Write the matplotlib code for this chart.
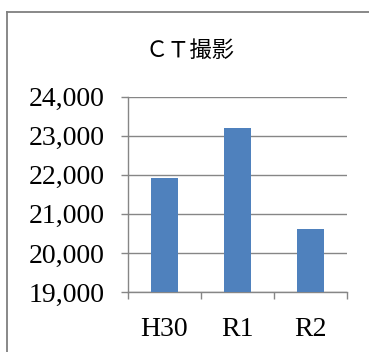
import matplotlib
matplotlib.use("Agg")
import matplotlib.pyplot as plt
from matplotlib.lines import Line2D
from matplotlib.ticker import FuncFormatter, MultipleLocator

categories = ["H30", "R1", "R2"]
values = [21920, 23190, 20610]
title = "ＣＴ撮影"

serif = ["Liberation Serif", "DejaVu Serif", "Noto Sans CJK JP"]
bar_color = "#4F81BD"
grid_color = "#868686"

W, H = 369, 352
fig = plt.figure(figsize=(W / 100, H / 100), dpi=100)

# outer chart-area frame (left and top edges visible)
fig.add_artist(Line2D([7 / W, 7 / W], [0, 1 - 12 / H], transform=fig.transFigure,
                      color="#7f7f7f", lw=1.3))
fig.add_artist(Line2D([7 / W, 1], [1 - 12 / H, 1 - 12 / H], transform=fig.transFigure,
                      color="#7f7f7f", lw=1.3))

ax = fig.add_axes([128 / W, 1 - 292 / H, (347 - 128) / W, (292 - 96.7) / H])
x = list(range(len(categories)))
ax.bar(x, values, width=0.38, color=bar_color, zorder=3)
ax.set_xlim(-0.5, len(categories) - 0.5)
ax.set_ylim(19000, 24000)
ax.yaxis.set_major_locator(MultipleLocator(1000))
ax.yaxis.set_major_formatter(FuncFormatter(lambda v, p: f"{int(v):,}"))
ax.grid(axis="y", color=grid_color, lw=1.0, zorder=0)

for s in ["top", "right"]:
    ax.spines[s].set_visible(False)
for s in ["left", "bottom"]:
    ax.spines[s].set_color(grid_color)
    ax.spines[s].set_linewidth(1.0)

ax.set_xticks([i - 0.5 for i in range(len(categories) + 1)], minor=False)
ax.set_xticklabels([])
ax.set_xticks(x, minor=True)
ax.set_xticklabels(categories, minor=True, fontfamily=serif, fontsize=20)
ax.tick_params(axis="x", which="major", length=5, color=grid_color, width=1.0)
ax.tick_params(axis="x", which="minor", length=0, pad=18)
ax.tick_params(axis="y", length=5, color=grid_color, width=1.0, pad=12)
for lab in ax.get_yticklabels():
    lab.set_fontfamily(serif)
    lab.set_fontsize(20)

fig.text(190 / W, 1 - 50 / H, title, ha="center", va="center",
         fontsize=16, family=["Noto Sans CJK JP", "DejaVu Sans"])

fig.savefig("out.png", dpi=100, facecolor="white")
